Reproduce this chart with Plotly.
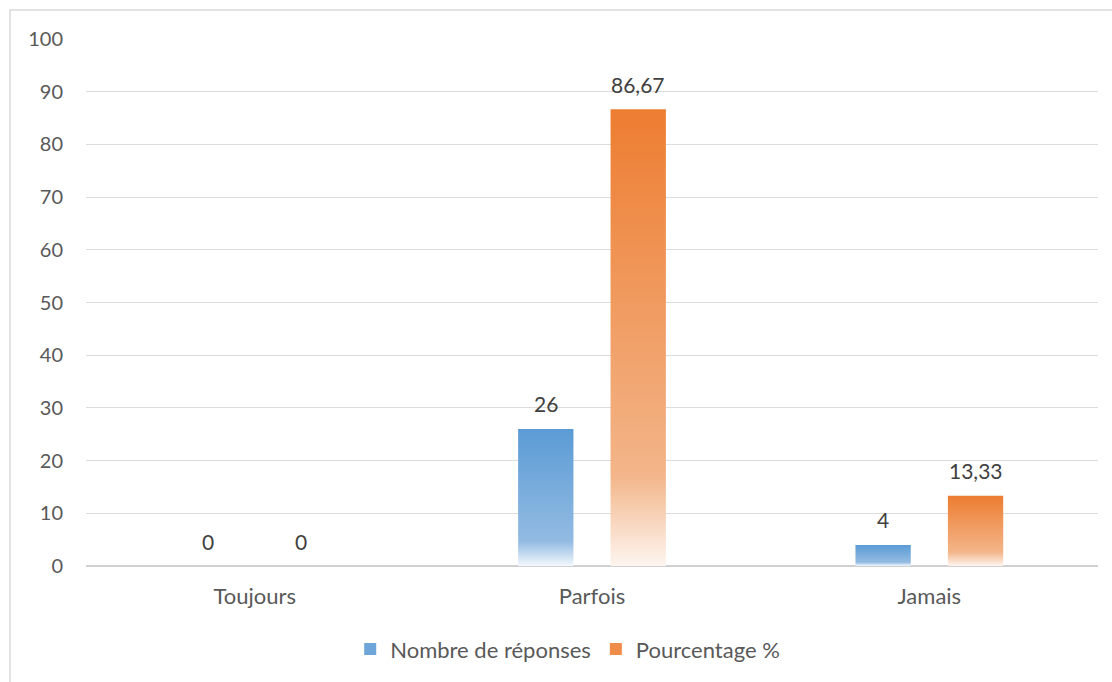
import plotly.graph_objects as go

# Survey results per answer category
categories = ["Toujours", "Parfois", "Jamais"]
nombre_reponses = [0, 26, 4]
pourcentage = [0, 86.67, 13.33]
y_ticks = [0, 10, 20, 30, 40, 50, 60, 70, 80, 90, 100]

series = [
    ("Nombre de réponses", nombre_reponses, -0.137,
     [[0, "#f3f8fd"], [0.18, "#93bbe2"], [1, "#5b9bd5"]], "#6fa6da"),
    ("Pourcentage %", pourcentage, 0.137,
     [[0, "#fdf5ef"], [0.20, "#f3b589"], [1, "#ed7d31"]], "#ef8c4a"),
]

HALF_W = 0.082  # half bar width in category units
FONT = "Lato, 'Open Sans', sans-serif"


def fmt(v):
    s = f"{v:.2f}".rstrip("0").rstrip(".")
    return s.replace(".", ",")


fig = go.Figure()
annotations = []

for name, values, offset, cscale, legend_color in series:
    for i, v in enumerate(values):
        annotations.append(dict(
            x=i + offset, y=v, xref="x", yref="y", text=fmt(v),
            showarrow=False, yanchor="middle", yshift=25,
            font=dict(family=FONT, size=21, color="#404040"),
        ))
        if v <= 0:
            continue
        x0, x1 = i + offset - HALF_W, i + offset + HALF_W
        fig.add_trace(go.Scatter(
            x=[x0, x1, x1, x0, x0],
            y=[0, 0, v, v, 0],
            mode="lines",
            line=dict(width=0),
            fill="toself",
            fillgradient=dict(type="vertical", colorscale=cscale, start=0, stop=v),
            name=name,
            showlegend=False,
            hoverinfo="skip",
        ))
    # legend swatch for the series
    fig.add_trace(go.Bar(
        x=[None], y=[None], name=name,
        marker=dict(color=legend_color, line=dict(width=0)),
        showlegend=True, hoverinfo="skip",
    ))

W, H = 1112, 682
ml, mr, mt, mb = 86, 14, 39, 116
pw, ph = W - ml - mr, H - mt - mb

# outer chart frame
fig.add_shape(
    type="rect", xref="paper", yref="paper",
    x0=(10 - ml) / pw, x1=(W + 20 - ml) / pw,
    y0=-(H + 20 - mt - ph) / ph, y1=(H - mb - 10) / ph,
    line=dict(color="#d9d9d9", width=1.5), fillcolor="rgba(0,0,0,0)",
    layer="below",
)

fig.update_layout(
    width=W, height=H,
    margin=dict(l=ml, r=mr, t=mt, b=mb),
    paper_bgcolor="white", plot_bgcolor="white",
    font=dict(family=FONT, size=20, color="#595959"),
    annotations=annotations,
    showlegend=True,
    legend=dict(
        orientation="h", x=0.476, xanchor="center", y=-0.158, yanchor="middle",
        font=dict(size=22, color="#595959"), itemwidth=30, tracegroupgap=0,
        bgcolor="rgba(0,0,0,0)",
    ),
    xaxis=dict(
        range=[-0.5, 2.5], tickmode="array",
        tickvals=list(range(len(categories))), ticktext=categories,
        showgrid=False, zeroline=False, showline=False,
        ticks="", ticklabelstandoff=15, fixedrange=True,
        tickfont=dict(size=22),
    ),
    yaxis=dict(
        range=[0, 100], tickmode="array", tickvals=y_ticks,
        showgrid=True, gridcolor="#dcdcdc", gridwidth=1.2,
        zeroline=True, zerolinecolor="#d0d0d0", zerolinewidth=2,
        showline=False, ticks="", ticklabelstandoff=22, fixedrange=True,
    ),
)

fig.write_html("out.html")
